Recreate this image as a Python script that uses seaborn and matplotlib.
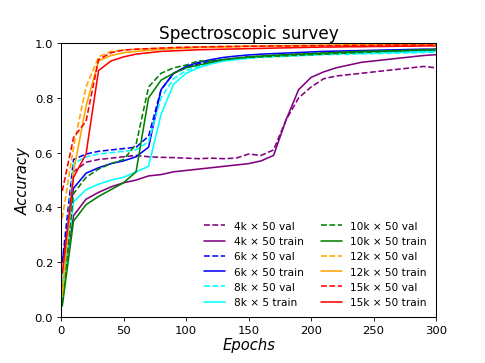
import matplotlib
matplotlib.use("Agg")
import matplotlib.pyplot as plt
import seaborn as sns

sns.set_style("ticks")
plt.rcParams['font.family'] = ['DejaVu Sans']
plt.rcParams['text.color'] = 'black'
plt.rcParams['axes.labelcolor'] = 'black'
plt.rcParams['xtick.color'] = 'black'
plt.rcParams['ytick.color'] = 'black'

epochs = [1, 10, 20, 30, 40, 50, 60, 70, 80, 90, 100, 110, 120, 130, 140, 150,
          160, 170, 180, 190, 200, 210, 220, 230, 240, 250, 260, 270, 280, 290, 300]

val_4k = [0.10, 0.53, 0.565, 0.575, 0.58, 0.585, 0.59, 0.585, 0.583, 0.582, 0.58, 0.578, 0.58, 0.578, 0.58, 0.595,
          0.59, 0.61, 0.72, 0.80, 0.84, 0.87, 0.88, 0.885, 0.89, 0.895, 0.90, 0.905, 0.91, 0.915, 0.91]
train_4k = [0.10, 0.37, 0.43, 0.455, 0.475, 0.49, 0.50, 0.515, 0.52, 0.53, 0.535, 0.54, 0.545, 0.55, 0.555, 0.56,
            0.57, 0.59, 0.72, 0.83, 0.875, 0.895, 0.91, 0.92, 0.93, 0.935, 0.94, 0.945, 0.95, 0.955, 0.958]
val_6k = [0.20, 0.575, 0.595, 0.605, 0.61, 0.615, 0.62, 0.66, 0.83, 0.89, 0.91, 0.925, 0.935, 0.94, 0.945, 0.95,
          0.952, 0.955, 0.957, 0.96, 0.962, 0.963, 0.965, 0.966, 0.967, 0.968, 0.969, 0.97, 0.97, 0.971, 0.972]
train_6k = [0.20, 0.47, 0.525, 0.545, 0.56, 0.57, 0.585, 0.62, 0.83, 0.89, 0.915, 0.93, 0.94, 0.948, 0.953, 0.957,
            0.96, 0.962, 0.964, 0.966, 0.968, 0.97, 0.971, 0.972, 0.973, 0.974, 0.975, 0.976, 0.977, 0.978, 0.978]
val_8k = [0.12, 0.56, 0.585, 0.595, 0.60, 0.605, 0.61, 0.64, 0.80, 0.87, 0.90, 0.915, 0.925, 0.935, 0.94, 0.945,
          0.948, 0.95, 0.952, 0.954, 0.956, 0.958, 0.959, 0.96, 0.961, 0.962, 0.963, 0.964, 0.965, 0.966, 0.967]
train_8k = [0.08, 0.42, 0.465, 0.485, 0.50, 0.51, 0.53, 0.55, 0.74, 0.85, 0.89, 0.91, 0.925, 0.935, 0.94, 0.945,
            0.95, 0.953, 0.955, 0.957, 0.959, 0.961, 0.962, 0.963, 0.964, 0.965, 0.966, 0.967, 0.968, 0.969, 0.97]
val_10k = [0.05, 0.45, 0.51, 0.54, 0.56, 0.575, 0.63, 0.84, 0.89, 0.91, 0.92, 0.935, 0.935, 0.94, 0.945, 0.948,
           0.95, 0.952, 0.954, 0.956, 0.958, 0.96, 0.962, 0.964, 0.966, 0.968, 0.97, 0.972, 0.974, 0.976, 0.978]
train_10k = [0.04, 0.35, 0.41, 0.44, 0.465, 0.49, 0.53, 0.80, 0.865, 0.89, 0.91, 0.92, 0.93, 0.94, 0.945, 0.95,
             0.953, 0.956, 0.958, 0.96, 0.962, 0.964, 0.966, 0.968, 0.97, 0.971, 0.972, 0.973, 0.974, 0.975, 0.976]
val_12k = [0.36, 0.62, 0.84, 0.95, 0.97, 0.975, 0.978, 0.98, 0.982, 0.984, 0.985, 0.986, 0.987, 0.988, 0.989, 0.99,
           0.99, 0.991, 0.991, 0.992, 0.992, 0.993, 0.993, 0.994, 0.994, 0.995, 0.995, 0.995, 0.996, 0.996, 0.996]
train_12k = [0.08, 0.53, 0.77, 0.935, 0.955, 0.965, 0.97, 0.974, 0.977, 0.98, 0.982, 0.984, 0.985, 0.986, 0.987, 0.988,
             0.989, 0.99, 0.99, 0.991, 0.991, 0.992, 0.992, 0.993, 0.993, 0.994, 0.994, 0.994, 0.995, 0.995, 0.995]
val_15k = [0.46, 0.655, 0.715, 0.94, 0.965, 0.975, 0.978, 0.98, 0.982, 0.984, 0.985, 0.986, 0.987, 0.988, 0.988, 0.989,
           0.989, 0.99, 0.99, 0.99, 0.991, 0.991, 0.991, 0.992, 0.992, 0.992, 0.993, 0.993, 0.993, 0.993, 0.993]
train_15k = [0.16, 0.51, 0.595, 0.90, 0.935, 0.95, 0.96, 0.965, 0.97, 0.972, 0.974, 0.976, 0.977, 0.978, 0.979, 0.98,
             0.981, 0.982, 0.983, 0.984, 0.985, 0.986, 0.986, 0.987, 0.987, 0.988, 0.988, 0.989, 0.989, 0.99, 0.99]

series = [
    ("4k \u00d7 50 val", val_4k, "purple", "--"),
    ("4k \u00d7 50 train", train_4k, "purple", "-"),
    ("6k \u00d7 50 val", val_6k, "blue", "--"),
    ("6k \u00d7 50 train", train_6k, "blue", "-"),
    ("8k \u00d7 50 val", val_8k, "cyan", "--"),
    ("8k \u00d7 5 train", train_8k, "cyan", "-"),
    ("10k \u00d7 50 val", val_10k, "green", "--"),
    ("10k \u00d7 50 train", train_10k, "green", "-"),
    ("12k \u00d7 50 val", val_12k, "orange", "--"),
    ("12k \u00d7 50 train", train_12k, "orange", "-"),
    ("15k \u00d7 50 val", val_15k, "red", "--"),
    ("15k \u00d7 50 train", train_15k, "red", "-"),
]

fig = plt.figure(figsize=(6.4, 4.8), dpi=75.8)
ax = fig.add_axes([0.1258, 0.1267, 0.899 - 0.1258, 0.879 - 0.1267])

for label, vals, color, ls in series:
    sns.lineplot(x=epochs, y=vals, color=color, linestyle=ls, linewidth=1.5,
                 label=label, ax=ax)

ax.set_xlim(0, 300)
ax.set_ylim(0, 1.0)
ax.set_xticks([0, 50, 100, 150, 200, 250, 300])
ax.set_yticks([0.0, 0.2, 0.4, 0.6, 0.8, 1.0])
ax.tick_params(labelsize=11, direction="out", length=4, color="black")
for s in ax.spines.values():
    s.set_color("black")
    s.set_linewidth(1.0)
ax.set_title("Spectroscopic survey", fontsize=16, pad=5)
ax.set_xlabel("Epochs", fontsize=14, style="italic", labelpad=2)
ax.set_ylabel("Accuracy", fontsize=14, style="italic")
ax.legend(ncol=2, loc="lower right", frameon=False, fontsize=10,
          columnspacing=1.6)

fig.savefig("out.png", dpi=75.8)
